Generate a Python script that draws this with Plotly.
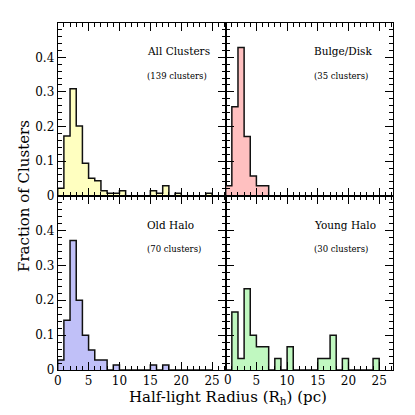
import plotly.graph_objects as go

# bin edges (pc), 1 pc bins from 0 to 25
edges = list(range(0, 26))

# cluster counts per 1-pc bin
all_counts = [3, 24, 43, 28, 13, 7, 6, 2, 1, 1, 2, 0, 0, 0, 0, 2, 1, 4, 0, 1, 0, 0, 0, 0, 1]
bulge_counts = [1, 9, 15, 6, 2, 1, 1, 0, 0, 0, 0, 0, 0, 0, 0, 0, 0, 0, 0, 0, 0, 0, 0, 0, 0]
old_counts = [2, 10, 26, 14, 7, 4, 2, 2, 0, 1, 0, 0, 0, 0, 0, 1, 0, 1, 0, 0, 0, 0, 0, 0, 0]
young_counts = [0, 5, 1, 7, 3, 2, 2, 0, 1, 0, 2, 0, 0, 0, 0, 1, 1, 3, 0, 1, 0, 0, 0, 0, 1]

totals = [139, 35, 70, 30]
titles = ["All Clusters", "Bulge/Disk", "Old Halo", "Young Halo"]
fills = ["#ffffc0", "#ffc0c0", "#c0c0f8", "#c0f8c0"]

ytick_vals = [0, 0.1, 0.2, 0.3, 0.4]
ytick_text = ["0", "0.1", "0.2", "0.3", "0.4"]
xtick_vals = [0, 5, 10, 15, 20, 25]

FONT = "DejaVu Serif"

fig = go.Figure()

panels = [
    (all_counts, "x", "y"),
    (bulge_counts, "x2", "y2"),
    (old_counts, "x3", "y3"),
    (young_counts, "x4", "y4"),
]

for i, (counts, xa, ya) in enumerate(panels):
    frac = [c / totals[i] for c in counts]
    xs = [0] + edges
    ys = [0] + frac + [0]
    fig.add_trace(go.Scatter(
        x=xs, y=ys, xaxis=xa, yaxis=ya,
        mode="lines", line_shape="hv",
        line=dict(color="#111111", width=1.5),
        fill="tozeroy", fillcolor=fills[i],
        showlegend=False, hoverinfo="skip",
    ))
    fig.add_annotation(
        x=14.1, y=0.417, xref=xa, yref=ya, text=titles[i],
        showarrow=False, xanchor="left", yanchor="middle",
        font=dict(family=FONT, size=10.5, color="black"),
    )
    fig.add_annotation(
        x=14.1, y=0.346, xref=xa, yref=ya, text=f"({totals[i]} clusters)",
        showarrow=False, xanchor="left", yanchor="middle",
        font=dict(family=FONT, size=8.5, color="black"),
    )

# page has an 8px body margin, so the figure sits 8px in from the corner
W = 407
OFF = 8
def px(p):
    return (p - OFF) / W

xl = [px(57.7), px(225.7)]
xr = [px(225.7), px(392.7)]
yt = [1 - px(195.7), 1 - px(22.7)]
yb = [1 - px(370), 1 - px(195.7)]

common_x = dict(
    range=[0, 27.2], ticks="inside", ticklen=8, tickwidth=1, tickcolor="black",
    tickvals=xtick_vals, showgrid=False, zeroline=False, automargin=False,
    showline=True, linecolor="black", linewidth=1, mirror="allticks",
    minor=dict(dtick=1, tick0=0, ticks="inside", ticklen=4, tickcolor="black", showgrid=False),
    tickfont=dict(family=FONT, size=12, color="black"),
)
common_y = dict(
    range=[0, 0.5], ticks="inside", ticklen=8, tickwidth=1, tickcolor="black",
    tickvals=ytick_vals, ticktext=ytick_text, showgrid=False, zeroline=False, automargin=False,
    showline=True, linecolor="black", linewidth=1, mirror="allticks",
    minor=dict(dtick=0.02, tick0=0, ticks="inside", ticklen=4, tickcolor="black", showgrid=False),
    tickfont=dict(family=FONT, size=12, color="black"),
)

fig.update_layout(
    width=W, height=W,
    margin=dict(l=0, r=0, t=0, b=0, autoexpand=False),
    plot_bgcolor="white", paper_bgcolor="white",
    xaxis=dict(common_x, domain=xl, anchor="y", showticklabels=False),
    yaxis=dict(common_y, domain=yt, anchor="x"),
    xaxis2=dict(common_x, domain=xr, anchor="y2", showticklabels=False),
    yaxis2=dict(common_y, domain=yt, anchor="x2", showticklabels=False),
    xaxis3=dict(common_x, domain=xl, anchor="y3"),
    yaxis3=dict(common_y, domain=yb, anchor="x3"),
    xaxis4=dict(common_x, domain=xr, anchor="y4"),
    yaxis4=dict(common_y, domain=yb, anchor="x4", showticklabels=False),
)
# the right panel's 0 tick stays, but its label is drawn as an annotation below
fig.update_xaxes(tickvals=xtick_vals[1:], selector=dict(anchor="y4"))

# plotly drops the right panel's "0" label where it meets the left panel; draw it by hand
fig.add_annotation(
    x=px(228), xref="paper", y=1 - px(380), yref="paper",
    xanchor="center", yanchor="middle", text="<b></b>0", showarrow=False,
    font=dict(family=FONT, size=12, color="black"),
)

fig.add_annotation(
    x=px(228), y=1 - px(397), xref="paper", yref="paper",
    xanchor="center", yanchor="middle",
    text="Half-light Radius (R<sub>h</sub>) (pc)", showarrow=False,
    font=dict(family=FONT, size=15, color="black"),
)
fig.add_annotation(
    x=px(24), y=1 - px(196), xref="paper", yref="paper",
    xanchor="center", yanchor="middle",
    text="Fraction of Clusters", showarrow=False, textangle=-90,
    font=dict(family=FONT, size=15, color="black"),
)

fig.write_html("out.html")
